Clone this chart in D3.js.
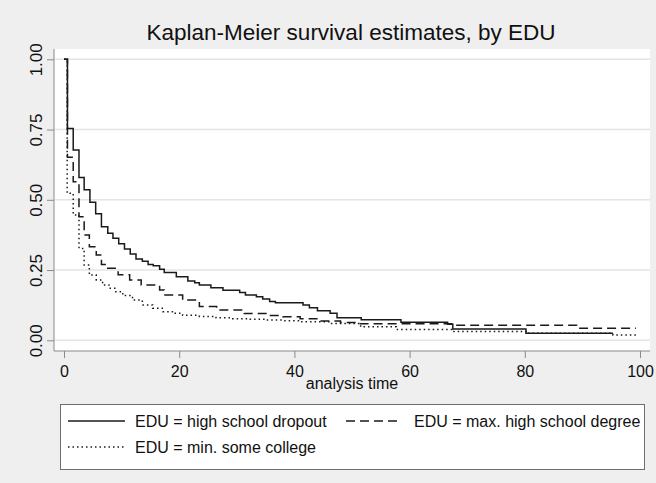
<!DOCTYPE html>
<html>
<head>
<meta charset="utf-8">
<script src="https://cdn.jsdelivr.net/npm/d3@7"></script>
<style>
  html, body { margin: 0; padding: 0; background: #efefef; }
  svg { display: block; }
  text { font-family: "Liberation Sans", Arial, Helvetica, sans-serif; fill: #111; }
</style>
</head>
<body>
<script>
// Kaplan-Meier survival estimates by education group (step functions)
const seriesNames = ["EDU = high school dropout", "EDU = max. high school degree", "EDU = min. some college"];

const dropoutTime = [0, 0.6, 1.6, 2.6, 3.5, 4.5, 5.5, 6.5, 7.6, 8.5, 9.5, 10.5, 11.5, 12.5, 13.6, 14.6, 15.5, 16.6, 17.4, 19.5, 21.5, 22.7, 23.5, 25.5, 27.6, 30.5, 31.5, 33.4, 34.5, 35.7, 36.7, 41.5, 42.6, 44.0, 46.2, 47.4, 51.6, 58.5, 66.6, 67.5, 80.2, 95.3];
const dropoutSurv = [1, 0.754, 0.677, 0.579, 0.536, 0.491, 0.450, 0.404, 0.381, 0.363, 0.344, 0.325, 0.307, 0.289, 0.281, 0.270, 0.265, 0.253, 0.241, 0.226, 0.211, 0.205, 0.197, 0.187, 0.178, 0.170, 0.161, 0.155, 0.147, 0.138, 0.134, 0.126, 0.116, 0.105, 0.096, 0.080, 0.073, 0.064, 0.057, 0.040, 0.025, 0.025];

const degreeTime = [0, 0.6, 1.6, 2.6, 3.5, 4.4, 5.6, 6.5, 7.6, 9.4, 11.4, 13.4, 16.6, 17.4, 20.6, 23.5, 26.5, 31.3, 35.5, 38.0, 41.0, 44.4, 48.0, 51.0, 67.5, 89.0, 99.3];
const degreeSurv = [1, 0.651, 0.564, 0.440, 0.375, 0.333, 0.304, 0.270, 0.256, 0.233, 0.215, 0.197, 0.179, 0.161, 0.143, 0.120, 0.108, 0.095, 0.088, 0.084, 0.077, 0.069, 0.063, 0.059, 0.054, 0.043, 0.043];

const collegeTime = [0, 0.55, 1.6, 2.6, 3.5, 4.4, 5.6, 6.7, 7.8, 9.0, 10.2, 11.9, 13.6, 15.4, 17.2, 19.0, 20.6, 23.5, 26.4, 29.3, 32.2, 35.1, 38.0, 41.0, 46.3, 51.5, 57.7, 67.5, 80.2, 95.3, 99.4];
const collegeSurv = [1, 0.523, 0.446, 0.327, 0.268, 0.232, 0.215, 0.197, 0.185, 0.173, 0.159, 0.143, 0.126, 0.114, 0.102, 0.096, 0.089, 0.085, 0.080, 0.077, 0.075, 0.072, 0.070, 0.066, 0.060, 0.048, 0.038, 0.031, 0.025, 0.019, 0.019];

const xTicks = [0, 20, 40, 60, 80, 100];
const yTicks = [0, 0.25, 0.5, 0.75, 1];
const yTickLabels = ["0.00", "0.25", "0.50", "0.75", "1.00"];

const W = 656, H = 483;
const plot = { left: 54, right: 650, top: 49, bottom: 351 };

const svg = d3.select("body").append("svg").attr("width", W).attr("height", H);
svg.append("rect").attr("width", W).attr("height", H).attr("fill", "#efefef");

// plot region
svg.append("rect")
  .attr("x", plot.left).attr("y", plot.top)
  .attr("width", plot.right - plot.left).attr("height", plot.bottom - plot.top)
  .attr("fill", "#ffffff");

const x = d3.scaleLinear().domain([0, 100]).range([64, 640]);
const y = d3.scaleLinear().domain([0, 1]).range([340.3, 59.3]);

// horizontal grid
svg.append("g").selectAll("line").data(yTicks).join("line")
  .attr("x1", plot.left + 1).attr("x2", plot.right)
  .attr("y1", d => y(d)).attr("y2", d => y(d))
  .attr("stroke", "#e4e4e4").attr("stroke-width", 1.5);

// axes
const yAxis = d3.axisLeft(y).tickValues(yTicks).tickSize(7).tickFormat((d, i) => yTickLabels[i]);
const gy = svg.append("g").attr("transform", `translate(${plot.left},0)`).call(yAxis);
gy.select(".domain").remove();
gy.selectAll(".tick line").attr("stroke", "#8a8a8a");
gy.selectAll(".tick text")
  .attr("x", null).attr("dy", null)
  .attr("text-anchor", "middle")
  .attr("transform", "translate(-12,0) rotate(-90)")
  .style("font-size", "17px").style("font-family", "Liberation Sans, Arial, sans-serif").attr("fill", "#111");

const xAxis = d3.axisBottom(x).tickValues(xTicks).tickSize(7).tickFormat(d3.format("d"));
const gx = svg.append("g").attr("transform", `translate(0,${plot.bottom})`).call(xAxis);
gx.select(".domain").remove();
gx.selectAll(".tick line").attr("stroke", "#8a8a8a");
gx.selectAll(".tick text").attr("y", 26).attr("dy", null)
  .style("font-size", "16px").style("font-family", "Liberation Sans, Arial, sans-serif").attr("fill", "#111");

svg.append("line").attr("x1", plot.left).attr("x2", plot.left)
  .attr("y1", plot.top).attr("y2", plot.bottom)
  .attr("stroke", "#8a8a8a").attr("stroke-width", 1);
svg.append("line").attr("x1", plot.left).attr("x2", plot.right)
  .attr("y1", plot.bottom).attr("y2", plot.bottom)
  .attr("stroke", "#8a8a8a").attr("stroke-width", 1);

// survival curves
const seriesData = [
  { name: seriesNames[0], time: dropoutTime, surv: dropoutSurv, dash: null },
  { name: seriesNames[1], time: degreeTime, surv: degreeSurv, dash: "9,5" },
  { name: seriesNames[2], time: collegeTime, surv: collegeSurv, dash: "1.5,3" }
];

const line = d3.line().x(d => x(d[0])).y(d => y(d[1])).curve(d3.curveStepAfter);

svg.append("g").selectAll("path").data(seriesData).join("path")
  .attr("d", s => line(s.time.map((t, i) => [t, s.surv[i]])))
  .attr("fill", "none")
  .attr("stroke", "#1a1a1a")
  .attr("stroke-width", 1.5)
  .attr("stroke-dasharray", s => s.dash);

// title and axis title
svg.append("text").attr("x", 351).attr("y", 40).attr("text-anchor", "middle")
  .style("font-size", "22.5px").text("Kaplan-Meier survival estimates, by EDU");
svg.append("text").attr("x", 352).attr("y", 389).attr("text-anchor", "middle")
  .style("font-size", "16px").text("analysis time");

// legend
const lg = svg.append("g");
lg.append("rect").attr("x", 60.5).attr("y", 404.5).attr("width", 584).attr("height", 65)
  .attr("fill", "#ffffff").attr("stroke", "#6e6e6e").attr("stroke-width", 1);
const legendItems = [
  { s: seriesData[0], kx: 68, ky: 421 },
  { s: seriesData[1], kx: 346, ky: 421 },
  { s: seriesData[2], kx: 68, ky: 447 }
];
legendItems.forEach(it => {
  const len = it.kx === 68 ? 57 : 52;
  lg.append("line").attr("x1", it.kx).attr("x2", it.kx + len)
    .attr("y1", it.ky).attr("y2", it.ky)
    .attr("stroke", "#1a1a1a").attr("stroke-width", 1.5)
    .attr("stroke-dasharray", it.s.dash);
  lg.append("text").attr("x", it.kx + len + (it.kx === 68 ? 10 : 16)).attr("y", it.ky + 6)
    .style("font-size", "16px").text(it.s.name);
});
</script>
</body>
</html>
